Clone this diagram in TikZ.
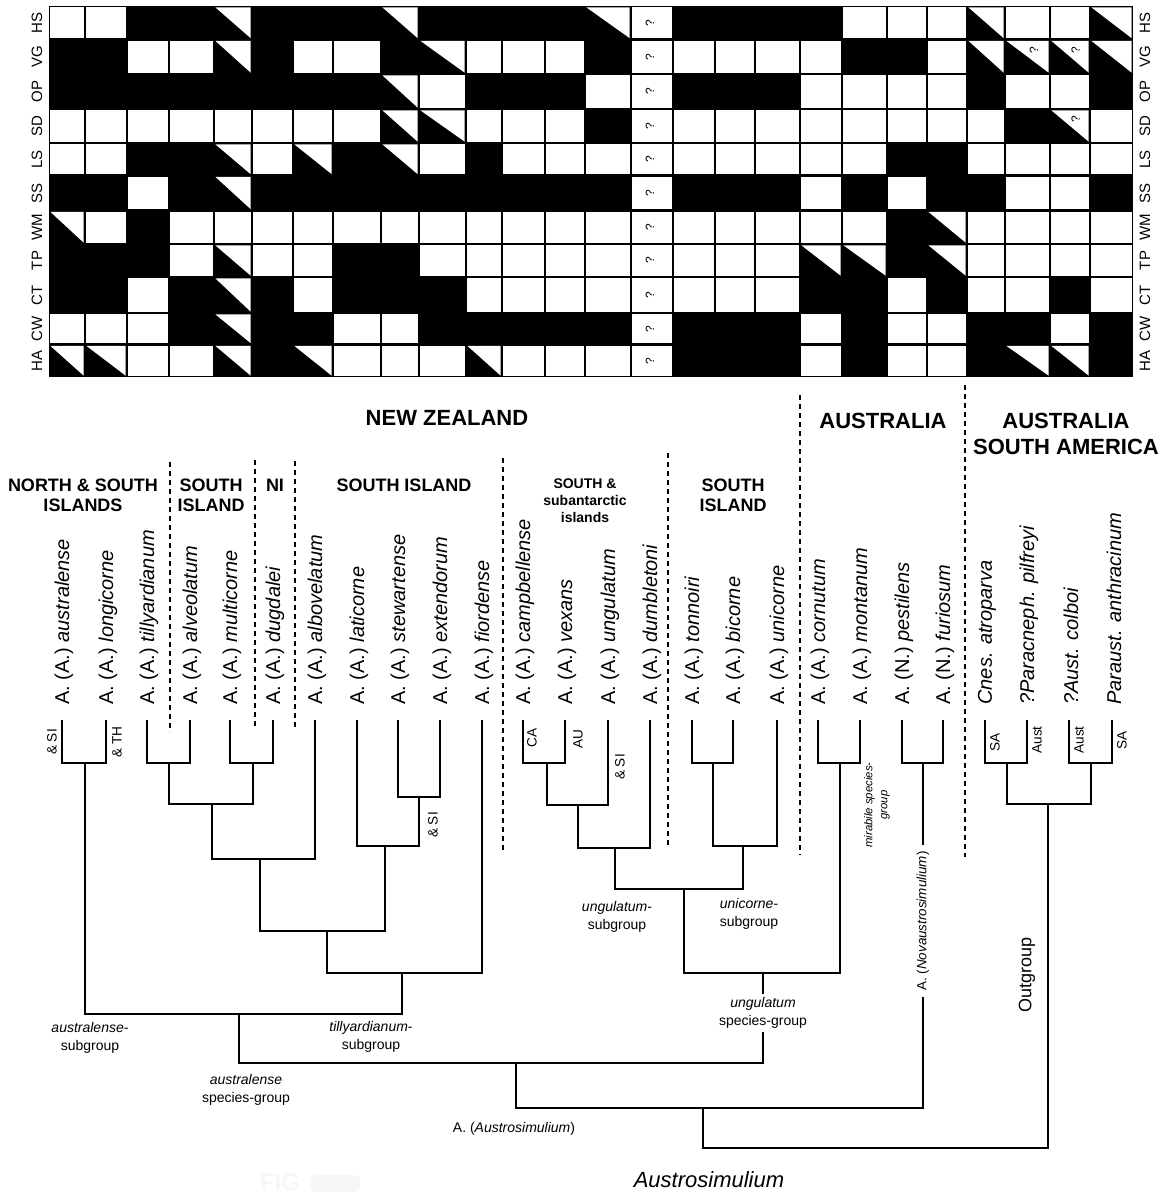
\documentclass[tikz,border=0pt]{standalone}
\usepackage{fontspec}
\setmainfont{Liberation Sans}
\usetikzlibrary{positioning}
\def\cW{W}\def\cH{H}\def\cQ{Q}\def\cP{P}
\def\colx{{49,85,127,169,214,252,293,333,381,419,466,502,545,585,631,673,715,755,800,842,887,927,967,1005,1050,1090,1133}}
\tikzset{
  taxon/.style={rotate=90,anchor=west,inner sep=0pt,font=\fontsize{10}{12}\selectfont},
  region/.style={font=\bfseries\fontsize{11}{13}\selectfont,align=center,inner sep=0pt},
  island/.style={font=\bfseries\fontsize{9}{10}\selectfont,align=center,inner sep=0pt},
  smallisland/.style={font=\bfseries\fontsize{7}{8.5}\selectfont,align=center,inner sep=0pt},
  grouplab/.style={font=\fontsize{7}{9}\selectfont,align=center,inner sep=0pt},
  distr/.style={rotate=90,font=\fontsize{6.8}{8}\selectfont,inner sep=0pt},
  rowlab/.style={rotate=90,font=\fontsize{7.5}{9}\selectfont,inner sep=0pt},
  qmark/.style={rotate=90,font=\fontsize{6}{7}\selectfont,inner sep=0pt},
  divider/.style={line width=1pt,dash pattern=on 2.5pt off 2pt},
  branch/.style={line width=1.4pt}
}
\begin{document}
\begin{tikzpicture}[x=0.5pt,y=-0.5pt]
\useasboundingbox (0,0) rectangle (1175,1194);
% character matrix
\fill (49,6) rectangle (1133,377);
\foreach \rw/\ya/\yb/\code in {
  HS/6/39.5/{W,W,B,B,H,B,B,B,H,B,B,B,B,H,Q,B,B,B,B,W,W,W,H,W,W,H},
  VG/39.5/74/{B,B,W,W,H,B,W,W,B,H,W,W,W,B,Q,W,W,W,W,B,B,W,H,P,P,H},
  OP/74/109/{B,B,B,B,B,B,B,B,H,W,B,B,B,W,Q,B,B,B,W,W,W,W,B,W,W,B},
  SD/109/143/{W,W,W,W,W,W,W,W,H,H,W,W,W,B,Q,W,W,W,W,W,W,W,W,B,P,W},
  LS/143/175.5/{W,W,B,B,H,W,H,B,H,W,B,W,W,W,Q,W,W,W,W,W,B,B,W,W,W,W},
  SS/175.5/210.5/{B,B,W,B,H,B,B,B,B,B,B,B,B,B,Q,B,B,B,W,B,W,B,B,W,W,B},
  WM/210.5/244/{H,W,B,W,W,W,W,W,W,W,W,W,W,W,Q,W,W,W,W,W,B,H,W,W,W,W},
  TP/244/277/{B,B,B,W,H,W,W,B,B,W,W,W,W,W,Q,W,W,W,H,H,B,H,W,W,W,W},
  CT/277/313/{B,B,W,B,H,B,W,B,B,B,W,W,W,W,Q,W,W,W,B,B,W,B,W,W,B,W},
  CW/313/344.5/{W,W,W,B,H,B,B,W,W,B,B,B,B,B,Q,B,B,B,W,B,W,W,B,B,W,B},
  HA/344.5/377/{H,H,W,W,H,B,H,W,W,W,H,W,W,W,Q,B,B,B,W,B,W,W,B,H,H,B}}{
  \node[rowlab] (rl-\rw) at (37,{(\ya+\yb)/2}) {\rw};
  \node[rowlab] (rr-\rw) at (1145,{(\ya+\yb)/2}) {\rw};
  \foreach \st [count=\i] in \code {
    \pgfmathsetmacro\xl{\colx[\i-1]+1.3}
    \pgfmathsetmacro\xr{\colx[\i]-1.3}
    \ifx\st\cW \fill[white] (\xl,\ya+1.3) rectangle (\xr,\yb-1.3); \fi
    \ifx\st\cQ \fill[white] (\xl,\ya+1.3) rectangle (\xr,\yb-1.3);
      \node[qmark] (q-\rw) at ({(\xl+\xr)/2-2},{(\ya+\yb)/2}) {?}; \fi
    \ifx\st\cH \fill[white] (\xl,\ya+1.3) -- (\xr,\ya+1.3) -- (\xr,\yb-1.3) -- cycle; \fi
    \ifx\st\cP \fill[white] (\xl,\ya+1.3) -- (\xr,\ya+1.3) -- (\xr,\yb-1.3) -- cycle;
      \node[qmark] (p-\rw-\i) at ({\xl+0.65*(\xr-\xl)},{\ya+0.3*(\yb-\ya)}) {?}; \fi
  }
}
% regions
\node[region] (nz) at (447,418) {NEW ZEALAND};
\node[region] (au) at (883,421) {AUSTRALIA};
\node[region] (ausa) at (1066,434) {AUSTRALIA\\SOUTH AMERICA};
\node[island] (nsi) at (83,495) {NORTH \& SOUTH\\ISLANDS};
\node[island] (si1) at (211,495) {SOUTH\\ISLAND};
\node[island] (ni) at (275,485) {NI};
\node[island] (si2) at (404,485) {SOUTH ISLAND};
\node[smallisland] (sub) at (585,501) {SOUTH \&\\subantarctic\\islands};
\node[island] (si3) at (733,495) {SOUTH\\ISLAND};
\foreach \x/\ya/\yb in {170/462/732,255/460/728,295/461/728,503/458/853,668/453/848,800/395/855,965/385/857}
  \draw[divider] (\x,\ya) -- (\x,\yb);
% taxa
\foreach \n/\x/\sg/\sp in {1/62/A/australense,2/106/A/longicorne,3/147/A/tillyardianum,
  4/190/A/alveolatum,5/230/A/multicorne,6/273/A/dugdalei,7/315/A/albovelatum,
  8/357/A/laticorne,9/398/A/stewartense,10/440/A/extendorum,11/482/A/fiordense,
  12/523/A/campbellense,13/565/A/vexans,14/608/A/ungulatum,15/650/A/dumbletoni,
  16/692/A/tonnoiri,17/733/A/bicorne,18/777/A/unicorne,19/818/A/cornutum,
  20/860/A/montanum,21/902/N/pestilens,22/943/N/furiosum}{
  \coordinate (t\n) at (\x,720);
  \node[taxon] (l\n) at (\x+2,705) {A. (\sg.) \textit{\sp}};
}
\foreach \n/\x/\sp in {23/985/Cnes. atroparva,24/1027/?Paracneph. pilfreyi,
  25/1069/?Aust. colboi,26/1112/Paraust. anthracinum}{
  \coordinate (t\n) at (\x,720);
  \node[taxon] (l\n) at (\x+2,705) {\textit{\sp}};
}
% tree
\foreach \j/\x/\y in {1/85/763,2/169/763,3/253/763,4/212/804,5/260/859,6/419/797,
  7/385/846,8/327/931,9/402/973,10/239/1014,11/547/763,12/578/805,13/615/848,
  14/713/763,15/743/846,16/684/889,17/840/763,18/763/973,19/923/763,20/516/1063,
  21/703/1108,22/1007/763,23/1091/763,24/1048/804,25/875/1148}
  \coordinate (j\j) at (\x,\y);
\foreach \a/\p/\b in {t1/j1/t2,t3/j2/t4,t5/j3/t6,j2/j4/j3,j4/j5/t7,t9/j6/t10,
  t8/j7/j6,j5/j8/j7,j8/j9/t11,j1/j10/j9,t12/j11/t13,j11/j12/t14,j12/j13/t15,
  t16/j14/t17,j14/j15/t18,j13/j16/j15,t19/j17/t20,j16/j18/j17,t21/j19/t22,
  j10/j20/j18,j20/j21/j19,t23/j22/t24,t25/j23/t26,j22/j24/j23,j21/j25/j24}
  \draw[branch] (\a) |- (\p) -| (\b);
% distributions
\node[distr] (d1) at (52,742) {\& SI};
\node[distr] (d2) at (117,742) {\& TH};
\node[distr] (d3) at (433,825) {\& SI};
\node[distr] (d4) at (532,738) {CA};
\node[distr] (d5) at (578,739) {AU};
\node[distr] (d6) at (620,767) {\& SI};
\node[distr] (d7) at (995,742) {SA};
\node[distr] (d8) at (1037,740) {Aust};
\node[distr] (d9) at (1079,740) {Aust};
\node[distr] (d10) at (1122,740) {SA};
% groups
\node[grouplab] (g1) at (90,1038) {\textit{australense}-\\subgroup};
\node[grouplab] (g2) at (371,1037) {\textit{tillyardianum}-\\subgroup};
\node[grouplab] (g3) at (246,1090) {\textit{australense}\\species-group};
\node[grouplab] (g4) at (617,917) {\textit{ungulatum}-\\subgroup};
\node[grouplab] (g5) at (749,914) {\textit{unicorne}-\\subgroup};
\node[grouplab,fill=white,inner sep=1.5pt] (g6) at (763,1013) {\textit{ungulatum}\\species-group};
\node[grouplab,rotate=90,font=\itshape\fontsize{5.7}{7.5}\selectfont] (g7) at (877,805) {mirabile species-\\group};
\node[grouplab,rotate=90,fill=white,inner xsep=3pt,inner ysep=1pt,font=\fontsize{6.7}{8}\selectfont] (g8) at (923,921) {A. (\textit{Novaustrosimulium})};
\node[grouplab] (g9) at (514,1129) {A. (\textit{Austrosimulium})};
\node[rotate=90,inner sep=0pt,font=\fontsize{9}{11}\selectfont] (og) at (1027,975) {Outgroup};
\node[inner sep=0pt,font=\itshape\fontsize{11}{13}\selectfont] (genus) at (709,1180) {Austrosimulium};
\node[inner sep=0pt,text=black!3,font=\bfseries\fontsize{12}{14}\selectfont] (fig) at (280,1182) {FIG};
\fill[black!3,rounded corners=3pt] (310,1175) rectangle (360,1192);
\end{tikzpicture}
\end{document}
